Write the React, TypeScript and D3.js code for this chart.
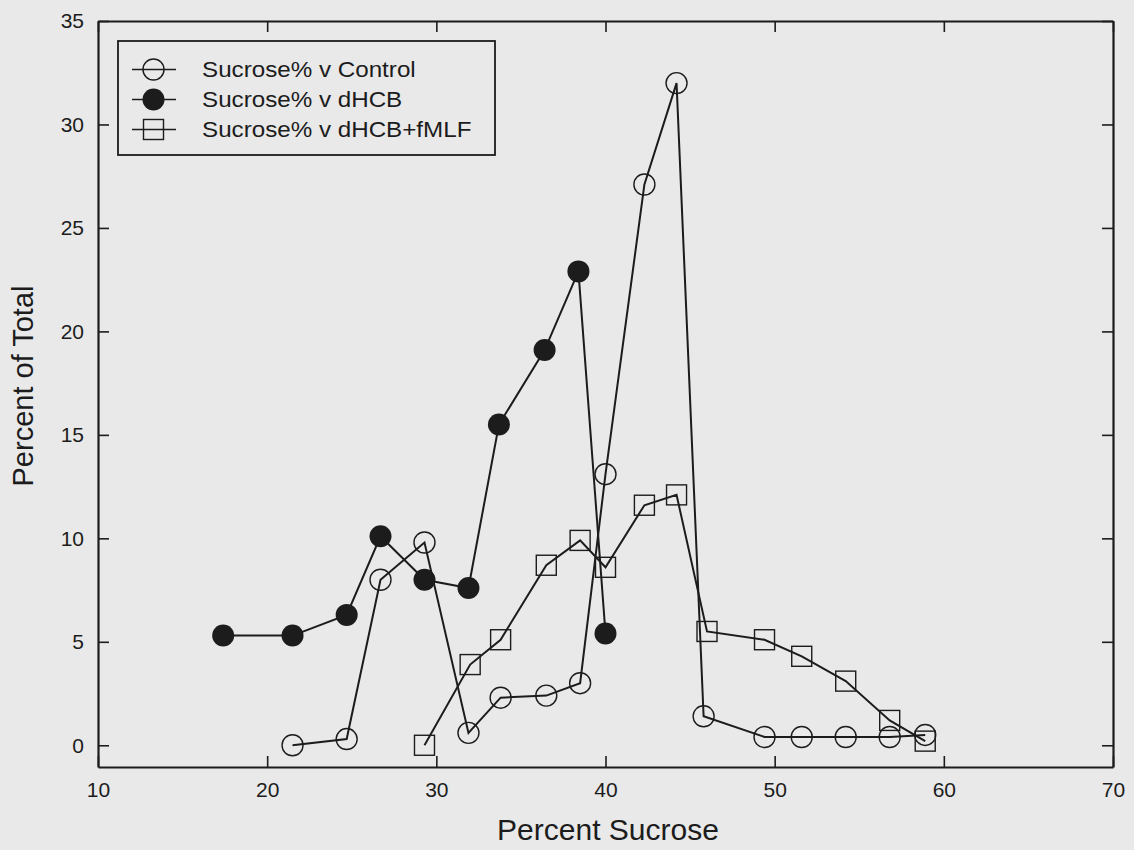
import { useEffect, useRef } from "react";
import * as d3 from "d3";

const controlX = [21.5, 24.7, 26.7, 29.3, 31.9, 33.8, 36.5, 38.5, 40.0, 42.3, 44.2, 45.8, 49.4, 51.6, 54.2, 56.8, 58.9];
const controlY = [0.0, 0.3, 8.0, 9.8, 0.6, 2.3, 2.4, 3.0, 13.1, 27.1, 32.0, 1.4, 0.4, 0.4, 0.4, 0.4, 0.5];

const dhcbX = [17.4, 21.5, 24.7, 26.7, 29.3, 31.9, 33.7, 36.4, 38.4, 40.0];
const dhcbY = [5.3, 5.3, 6.3, 10.1, 8.0, 7.6, 15.5, 19.1, 22.9, 5.4];

const fmlfX = [29.3, 32.0, 33.8, 36.5, 38.5, 40.0, 42.3, 44.2, 46.0, 49.4, 51.6, 54.2, 56.8, 58.9];
const fmlfY = [0.0, 3.9, 5.1, 8.7, 9.9, 8.6, 11.6, 12.1, 5.5, 5.1, 4.3, 3.1, 1.2, 0.2];

const xTicks = [10, 20, 30, 40, 50, 60, 70];
const yTicks = [0, 5, 10, 15, 20, 25, 30, 35];

const seriesNames = ["Sucrose% v Control", "Sucrose% v dHCB", "Sucrose% v dHCB+fMLF"];
const seriesMarks = ["open", "filled", "square"];

export default function App() {
  const ref = useRef<SVGSVGElement>(null);

  useEffect(() => {
    const svg = d3.select(ref.current);
    svg.selectAll("*").remove();

    const width = 1134;
    const height = 850;
    const margin = { top: 21, right: 21, bottom: 83, left: 98 };
    const innerWidth = width - margin.left - margin.right;
    const innerHeight = height - margin.top - margin.bottom;
    const ink = "#1c1c1c";
    const bg = "#e9e9e9";
    const font = "'Liberation Sans', Arial, sans-serif";

    svg.attr("width", width).attr("height", height);
    svg.append("rect").attr("width", width).attr("height", height).attr("fill", bg);

    const chart = svg.append("g").attr("transform", `translate(${margin.left},${margin.top})`);

    const x = d3.scaleLinear().domain([10, 70]).range([0, innerWidth]);
    const y = d3.scaleLinear().domain([-1.05, 35]).range([innerHeight, 0]);

    const styleAxis = (g: any, labels: boolean) => {
      g.select(".domain").attr("stroke", ink).attr("stroke-width", 2.2);
      g.selectAll(".tick line").attr("stroke", ink).attr("stroke-width", 1.6);
      if (labels) {
        g.selectAll(".tick text").attr("fill", ink).style("font-size", "21px").style("font-family", font);
      } else {
        g.selectAll(".tick text").remove();
      }
    };

    chart.append("g")
      .attr("transform", `translate(0,${innerHeight})`)
      .call(d3.axisBottom(x).tickValues(xTicks).tickSizeInner(-11).tickSizeOuter(0).tickPadding(15))
      .call((g: any) => styleAxis(g, true));

    chart.append("g")
      .call(d3.axisTop(x).tickValues(xTicks).tickSizeInner(-11).tickSizeOuter(0))
      .call((g: any) => styleAxis(g, false));

    chart.append("g")
      .call(d3.axisLeft(y).tickValues(yTicks).tickSizeInner(-11).tickSizeOuter(0).tickPadding(14))
      .call((g: any) => styleAxis(g, true));

    chart.append("g")
      .attr("transform", `translate(${innerWidth},0)`)
      .call(d3.axisRight(y).tickValues(yTicks).tickSizeInner(-11).tickSizeOuter(0))
      .call((g: any) => styleAxis(g, false));

    const line = d3.line<[number, number]>().x(d => x(d[0])).y(d => y(d[1]));

    const series = [
      d3.zip(controlX, controlY) as [number, number][],
      d3.zip(dhcbX, dhcbY) as [number, number][],
      d3.zip(fmlfX, fmlfY) as [number, number][]
    ];

    const drawMark = (g: any, kind: string, cx: number, cy: number) => {
      if (kind === "square") {
        g.append("rect")
          .attr("x", cx - 10).attr("y", cy - 10).attr("width", 20).attr("height", 20)
          .attr("fill", "none").attr("stroke", ink).attr("stroke-width", 1.4);
      } else if (kind === "filled") {
        g.append("circle").attr("cx", cx).attr("cy", cy).attr("r", 11).attr("fill", ink);
      } else {
        g.append("circle").attr("cx", cx).attr("cy", cy).attr("r", 10.5)
          .attr("fill", "none").attr("stroke", ink).attr("stroke-width", 1.4);
      }
    };

    series.forEach((pts, i) => {
      chart.append("path")
        .datum(pts)
        .attr("d", line)
        .attr("fill", "none")
        .attr("stroke", ink)
        .attr("stroke-width", 2);
      pts.forEach(p => drawMark(chart, seriesMarks[i], x(p[0]), y(p[1])));
    });

    // legend
    const legend = svg.append("g").attr("transform", "translate(118,41)");
    legend.append("rect")
      .attr("width", 377).attr("height", 114)
      .attr("fill", bg).attr("stroke", ink).attr("stroke-width", 1.8);
    seriesNames.forEach((name, i) => {
      const ly = 28.5 + i * 30;
      legend.append("line")
        .attr("x1", 14).attr("x2", 58).attr("y1", ly).attr("y2", ly)
        .attr("stroke", ink).attr("stroke-width", 1.6);
      drawMark(legend, seriesMarks[i], 35.5, ly);
      legend.append("text")
        .attr("transform", `translate(84,${ly}) scale(1.1,1)`)
        .attr("dominant-baseline", "central")
        .attr("fill", ink)
        .style("font-size", "22px")
        .style("font-family", font)
        .text(name);
    });

    svg.append("text")
      .attr("x", 608)
      .attr("y", 840)
      .attr("text-anchor", "middle")
      .attr("fill", ink)
      .style("font-size", "30px")
      .style("font-family", font)
      .text("Percent Sucrose");

    svg.append("text")
      .attr("transform", "translate(33,386) rotate(-90)")
      .attr("text-anchor", "middle")
      .attr("fill", ink)
      .style("font-size", "29px")
      .style("font-family", font)
      .text("Percent of Total");
  }, []);

  return <svg ref={ref} style={{ position: "absolute", left: 0, top: 0 }}></svg>;
}
